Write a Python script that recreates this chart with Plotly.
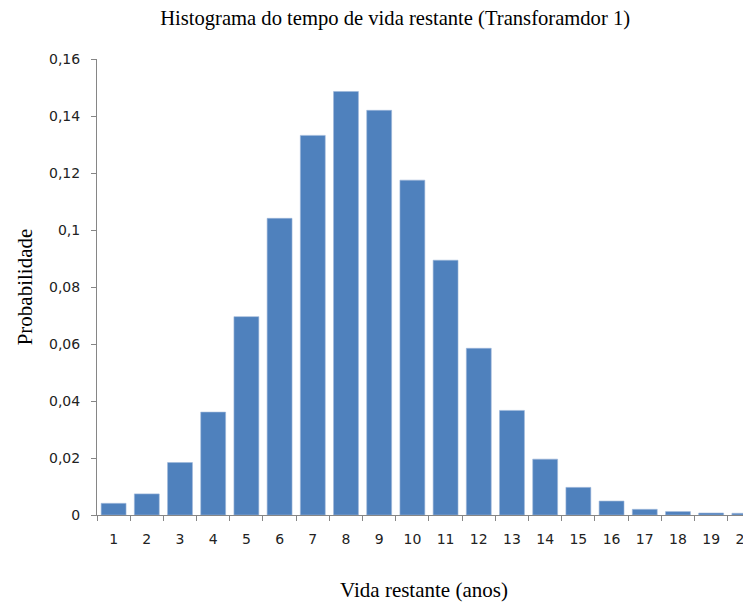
import plotly.graph_objects as go

anos = [str(i) for i in range(1, 21)]
probabilidade = [0.0041, 0.0074, 0.0184, 0.0361, 0.0696, 0.1041, 0.1332, 0.1486,
                 0.1420, 0.1175, 0.0894, 0.0585, 0.0367, 0.0196, 0.0097, 0.0049,
                 0.0020, 0.0012, 0.0007, 0.0006]
yticks = [0, 0.02, 0.04, 0.06, 0.08, 0.1, 0.12, 0.14, 0.16]
yticklabels = ["0", "0,02", "0,04", "0,06", "0,08", "0,1", "0,12", "0,14", "0,16"]

fig = go.Figure()
fig.add_trace(go.Bar(
    x=anos,
    y=probabilidade,
    marker=dict(color="#4F81BD", line=dict(color="#9DB7DA", width=0.6)),
    width=0.75,
))

# a página tem 8px de margem no body, por isso 743x594
fig.update_layout(
    width=743, height=594,
    paper_bgcolor="white", plot_bgcolor="white",
    margin=dict(l=89, r=0, t=51, b=87),
    showlegend=False,
    title=dict(
        text="Histograma do tempo de vida restante (Transforamdor 1)",
        x=0.521, xref="container", xanchor="center",
        y=1, yref="container", yanchor="top",
        pad=dict(t=3),
        font=dict(family="Liberation Serif", size=20.6, color="black"),
    ),
    font=dict(family="DejaVu Sans", size=14, color="#222222"),
)

fig.update_xaxes(
    type="category",
    range=[-0.5, 19.2],
    automargin=False,
    tickson="boundaries",
    ticks="outside", ticklen=5, tickcolor="#868686",
    showline=True, linecolor="#868686", linewidth=1,
    showgrid=False,
    ticklabelstandoff=11,
    tickfont=dict(family="DejaVu Sans", size=14, color="#222222"),
    title=dict(text="Vida restante (anos)", standoff=39,
               font=dict(family="Liberation Serif", size=21, color="black")),
)

fig.update_yaxes(
    range=[0, 0.16],
    automargin=False,
    tickvals=yticks, ticktext=yticklabels,
    ticks="outside", ticklen=5, tickcolor="#868686",
    showline=True, linecolor="#868686", linewidth=1,
    showgrid=False, zeroline=False,
    ticklabelstandoff=8,
    tickfont=dict(family="DejaVu Sans", size=14, color="#222222"),
    title=dict(text="Probabilidade", standoff=10,
               font=dict(family="Liberation Serif", size=21, color="black")),
)

fig.write_html("out.html")
